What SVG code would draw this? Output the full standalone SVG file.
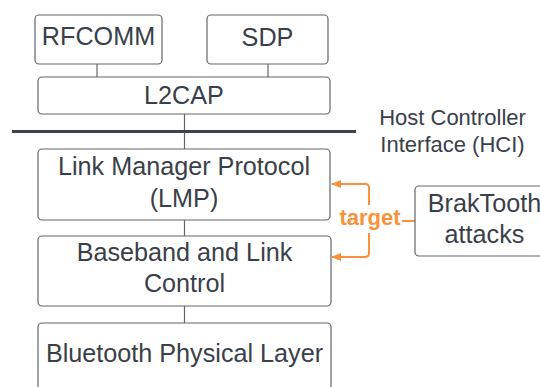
<svg xmlns="http://www.w3.org/2000/svg" width="540" height="387" viewBox="0 0 540 387">
<defs>
<style>
.box{fill:#ffffff;stroke:#63676c;stroke-width:1.2}
.t{font-family:"Liberation Sans",Arial,sans-serif;font-size:25.2px;fill:#3a4049;text-anchor:middle}
.h{font-family:"Liberation Sans",Arial,sans-serif;font-size:22px;fill:#3a4049;text-anchor:middle}
.c{fill:none;stroke:#63676c;stroke-width:1.2}
.o{fill:none;stroke:#f8923a;stroke-width:2}
.lbl{font-family:"Liberation Sans",Arial,sans-serif;font-size:22px;font-weight:bold;fill:#f8923a;text-anchor:middle}
</style>
<marker id="ah" viewBox="0 0 10 8" refX="9" refY="4" markerWidth="10" markerHeight="8" markerUnits="userSpaceOnUse" orient="auto">
<path d="M0,0 L10,4 L0,8 Z" fill="#f8923a"/>
</marker>
</defs>
<rect width="540" height="387" fill="#ffffff"/>
<g id="connectors">
<line class="c" x1="97" y1="64" x2="97" y2="77"/>
<line class="c" x1="268" y1="64" x2="268" y2="77"/>
<line class="c" x1="184.5" y1="114" x2="184.5" y2="149"/>
<line class="c" x1="184.5" y1="220" x2="184.5" y2="236"/>
<line class="c" x1="184.5" y1="306" x2="184.5" y2="323"/>
<path class="o" d="M415,221 H369 V188 Q369,184 365,184 H332" marker-end="url(#ah)"/>
<path class="o" d="M415,221 H369 V253 Q369,257 365,257 H332" marker-end="url(#ah)"/>
<rect x="338" y="205" width="64" height="28" fill="#ffffff"/>
<text class="lbl" x="370" y="225">target</text>
</g>
<g id="hci">
<line x1="12" y1="131.5" x2="356" y2="131.5" stroke="#3c434c" stroke-width="3"/>
<text class="h" x="452.5" y="125">Host Controller</text>
<text class="h" x="452.5" y="152">Interface (HCI)</text>
</g>
<g id="rfcomm">
<rect class="box" x="35" y="15" width="127" height="49" rx="4"/>
<text class="t" x="98.5" y="45">RFCOMM</text>
</g>
<g id="sdp">
<rect class="box" x="207" y="15" width="121" height="49" rx="4"/>
<text class="t" x="267.5" y="46">SDP</text>
</g>
<g id="l2cap">
<rect class="box" x="38" y="77" width="292" height="37" rx="4"/>
<text class="t" x="184" y="104">L2CAP</text>
</g>
<g id="lmp">
<rect class="box" x="38" y="149" width="292" height="71" rx="4"/>
<text class="t" x="184" y="175">Link Manager Protocol</text>
<text class="t" x="184" y="207">(LMP)</text>
</g>
<g id="baseband">
<rect class="box" x="38" y="236" width="293" height="70" rx="4"/>
<text class="t" x="184.5" y="261">Baseband and Link</text>
<text class="t" x="184.5" y="292">Control</text>
</g>
<g id="physical">
<rect class="box" x="38" y="323" width="293" height="80" rx="4"/>
<text class="t" x="184.5" y="362">Bluetooth Physical Layer</text>
</g>
<g id="braktooth">
<rect class="box" x="415" y="186" width="139" height="70" rx="4"/>
<text class="t" x="484.5" y="212">BrakTooth</text>
<text class="t" x="484.5" y="243">attacks</text>
</g>
</svg>
